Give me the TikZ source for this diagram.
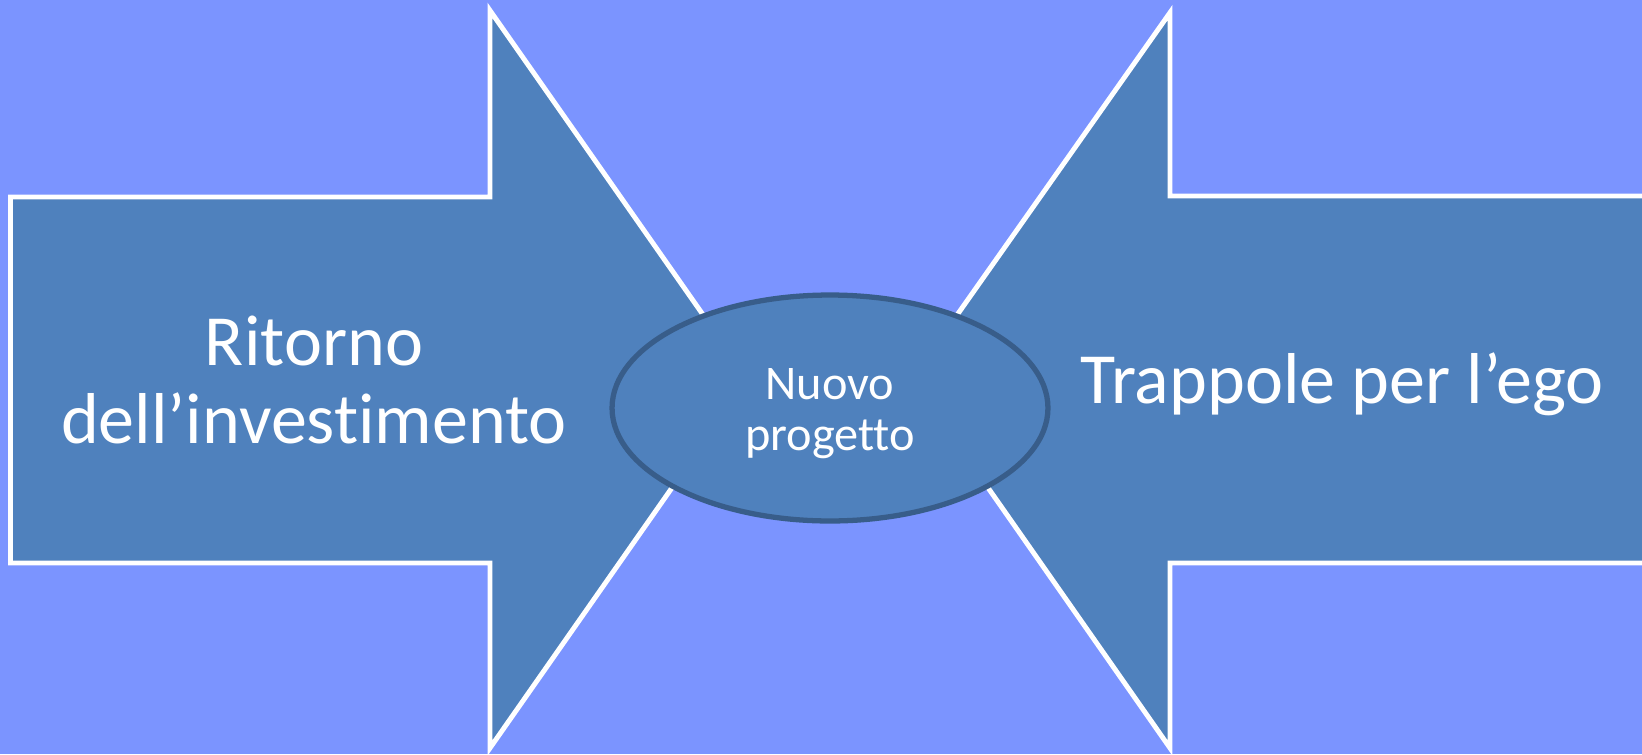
\documentclass[tikz,border=0pt]{standalone}
\usepackage{fontspec}
\setmainfont{Carlito}[Ligatures=NoCommon]
\usetikzlibrary{shapes.geometric}

\definecolor{sfondo}{RGB}{123,148,255}
\definecolor{freccia}{RGB}{79,129,189}
\definecolor{bordo}{RGB}{56,93,138}

\tikzset{
  frecciabox/.style = {fill=freccia, draw=white, line width=2.8pt},
  testogrande/.style = {text=white, align=center, font=\fontsize{41}{44}\selectfont},
  centrale/.style = {ellipse, fill=freccia, draw=bordo, line width=3pt,
    minimum width=8.72cm, minimum height=4.52cm, inner sep=0pt,
    text=white, font=\fontsize{27.5}{29.5}\selectfont}
}

\begin{document}
\begin{tikzpicture}[x=0.02cm,y=-0.02cm]
        \fill[sfondo] (0,0) rectangle (1642,754);
        \useasboundingbox (0,0) rectangle (1642,754);
        \clip (0,0) rectangle (1642,754);

        % freccia di sinistra
        \coordinate (s1) at (10.5,197);
        \coordinate (s2) at (490,197);
        \coordinate (s3) at (490,10.5);
        \coordinate (punta-s) at (748,379);
        \coordinate (s4) at (490,748);
        \coordinate (s5) at (490,563);
        \coordinate (s6) at (10.5,563);
        \draw[frecciabox] (s1) -- (s2) -- (s3) -- (punta-s) -- (s4) -- (s5) -- (s6) -- cycle;

        % freccia di destra
        \coordinate (d1) at (1665,196);
        \coordinate (d2) at (1170,196);
        \coordinate (d3) at (1170,12.6);
        \coordinate (punta-d) at (912,379);
        \coordinate (d4) at (1170,748);
        \coordinate (d5) at (1170,563);
        \coordinate (d6) at (1665,563);
        \draw[frecciabox] (d1) -- (d2) -- (d3) -- (punta-d) -- (d4) -- (d5) -- (d6) -- cycle;

        \node[testogrande] (ritorno) at (314,380) {Ritorno\\dell’investimento};
        \node[testogrande] (trappole) at (1342,384) {Trappole per l’ego};

        \node[centrale] (progetto) at (830,408) {\raisebox{-10pt}[0pt][0pt]{\begin{tabular}{@{}c@{}}Nuovo\\progetto\end{tabular}}};
    \end{tikzpicture}
\end{document}
